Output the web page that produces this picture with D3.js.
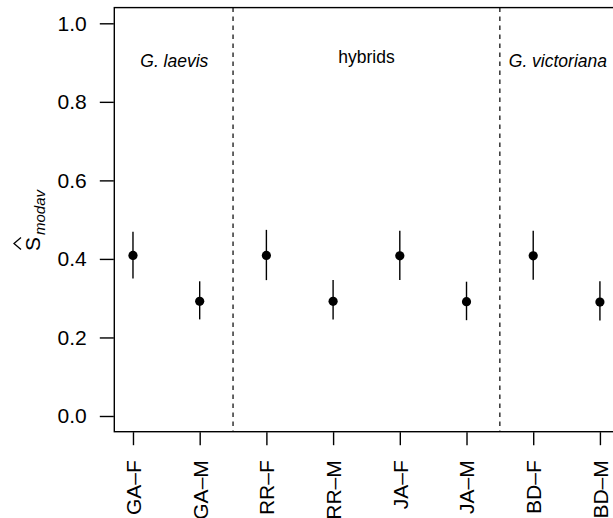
<!DOCTYPE html>
<html>
<head>
<meta charset="utf-8">
<style>
body { margin: 0; background: #fff; }
text { font-family: "Liberation Sans", Arial, sans-serif; fill: #000; }
</style>
<script src="https://cdnjs.cloudflare.com/ajax/libs/d3/7.8.5/d3.min.js"></script>
</head>
<body>
<svg width="613" height="518"></svg>
<script>
// values
var categories = ["GA–F", "GA–M", "RR–F", "RR–M", "JA–F", "JA–M", "BD–F", "BD–M"];
var estimates = [0.409, 0.292, 0.409, 0.292, 0.408, 0.291, 0.408, 0.290];
var upper = [0.469, 0.343, 0.474, 0.346, 0.472, 0.342, 0.472, 0.343];
var lower = [0.350, 0.246, 0.346, 0.246, 0.346, 0.244, 0.347, 0.243];
var yTicks = [0, 0.2, 0.4, 0.6, 0.8, 1.0];
var dividers = [2.5, 6.5];
var groupNames = ["G. laevis", "hybrids", "G. victoriana"];
var groupX = [1.62, 4.5, 7.37];
var groupY = [0.905, 0.915, 0.905];
var groupItalic = [true, false, true];

var svg = d3.select("svg");

// R-style 4% padding on both axes
var x = d3.scaleLinear().domain([0.72, 8.28]).range([114.3, 618.6]);
var y = d3.scaleLinear().domain([-0.04, 1.04]).range([431.7, 7.6]);

// dashed separators
svg.selectAll("line.div")
  .data(dividers)
  .enter().append("line")
  .attr("class", "div")
  .attr("x1", d => x(d)).attr("x2", d => x(d))
  .attr("y1", y(1.04)).attr("y2", y(-0.04))
  .attr("stroke", "#000").attr("stroke-width", 1.2)
  .attr("stroke-dasharray", "4.5,4.5");

// group labels
svg.selectAll("text.grp")
  .data(groupNames)
  .enter().append("text")
  .attr("class", "grp")
  .attr("x", (d, i) => x(groupX[i]))
  .attr("y", (d, i) => y(groupY[i]))
  .attr("dy", "0.35em")
  .attr("text-anchor", "middle")
  .style("font-size", "17.5px")
  .style("font-style", (d, i) => groupItalic[i] ? "italic" : "normal")
  .text(d => d);

// error bars
var pts = categories.map((c, i) => ({ c: c, i: i + 1, est: estimates[i], hi: upper[i], lo: lower[i] }));

svg.selectAll("line.err")
  .data(pts)
  .enter().append("line")
  .attr("class", "err")
  .attr("x1", d => x(d.i)).attr("x2", d => x(d.i))
  .attr("y1", d => y(d.lo)).attr("y2", d => y(d.hi))
  .attr("stroke", "#000").attr("stroke-width", 1.4);

svg.selectAll("circle")
  .data(pts)
  .enter().append("circle")
  .attr("cx", d => x(d.i))
  .attr("cy", d => y(d.est))
  .attr("r", 4.6)
  .attr("fill", "#000");

// plot box
svg.append("rect")
  .attr("x", x(0.72)).attr("y", y(1.04))
  .attr("width", x(8.28) - x(0.72))
  .attr("height", y(-0.04) - y(1.04))
  .attr("fill", "none").attr("stroke", "#000").attr("stroke-width", 1.4);

// y axis
var yAxis = d3.axisLeft(y).tickValues(yTicks).tickFormat(d3.format(".1f"))
  .tickSize(14).tickPadding(13);
var gy = svg.append("g").attr("transform", "translate(" + (x(0.72) - 0.5) + ",0)").call(yAxis);
gy.select(".domain").remove();
gy.selectAll("line").attr("stroke-width", 1.4);
gy.selectAll("text").style("font-size", "21px").attr("font-family", null);

// x axis
var xAxis = d3.axisBottom(x).tickValues(d3.range(1, 9))
  .tickFormat(d => categories[d - 1]).tickSize(13).tickPadding(0);
var gx = svg.append("g").attr("transform", "translate(0," + (y(-0.04) + 0.5) + ")").call(xAxis);
gx.select(".domain").remove();
gx.selectAll("line").attr("stroke-width", 1.4);
gx.selectAll("text")
  .style("font-size", "21px").attr("font-family", null)
  .attr("text-anchor", "end")
  .attr("transform", "translate(0,28) rotate(-90)")
  .attr("x", 0).attr("y", 0).attr("dy", "0.35em");

// y label: S-hat with subscript modav
var lab = svg.append("g").attr("transform", "translate(40,251) rotate(-90)");
lab.append("text")
  .style("font-size", "21px")
  .text("S")
  .append("tspan")
  .attr("dx", 2).attr("dy", 5)
  .style("font-size", "15px").style("font-style", "italic")
  .text("modav");
lab.append("path")
  .attr("d", "M1.5,-19 L7.5,-26 L13.5,-19")
  .attr("fill", "none").attr("stroke", "#000").attr("stroke-width", 1.3);
</script>
</body>
</html>
